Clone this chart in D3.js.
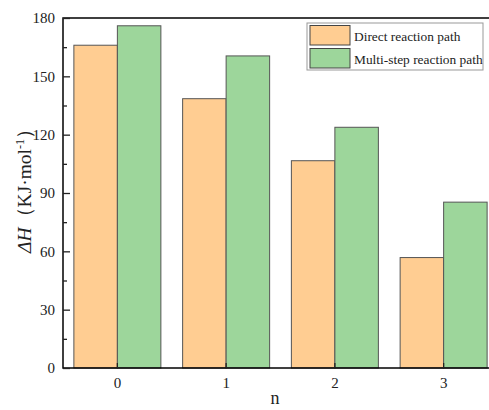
<!DOCTYPE html>
<html><head><meta charset="utf-8">
<script src="https://cdn.jsdelivr.net/npm/d3@7"></script>
<style>body{margin:0;background:#fff}svg{display:block}text{font-family:"Liberation Serif","Times New Roman",serif}</style>
</head><body>
<script>
const categories = ["0","1","2","3"];
const seriesNames = ["Direct reaction path","Multi-step reaction path"];
const directValues = [166, 138.5, 106.6, 56.8];
const multiValues = [176, 160.5, 123.8, 85.3];
const yTicks = [0,30,60,90,120,150,180];
const yMinorTicks = [15,45,75,105,135,165];
const colors = ["#FFCD92","#9DD69B"];

const W=489,H=410;
const svg=d3.select("body").append("svg").attr("width",W).attr("height",H);
const m={l:63,t:18,b:368,r:498};
const x=d3.scaleBand().domain(categories).range([m.l,m.r]).paddingInner(0.2).paddingOuter(0.1);
const xs=d3.scaleBand().domain(seriesNames).range([0,x.bandwidth()]);
const y=d3.scaleLinear().domain([0,180]).range([m.b,m.t]);
const series=[directValues,multiValues];

const g=svg.append("g");
series.forEach((vals,si)=>{
  g.selectAll(".b"+si).data(categories).join("rect")
    .attr("x",d=>x(d)+xs(seriesNames[si]))
    .attr("y",(d,i)=>y(vals[i]))
    .attr("width",xs.bandwidth())
    .attr("height",(d,i)=>y(0)-y(vals[i]))
    .attr("fill",colors[si]).attr("stroke","#555").attr("stroke-width",1);
});

// frame
svg.append("rect").attr("x",m.l).attr("y",m.t).attr("width",m.r-m.l).attr("height",m.b-m.t)
  .attr("fill","none").attr("stroke","#000").attr("stroke-width",1.5);

const ya=svg.append("g").attr("transform",`translate(${m.l},0)`)
  .call(d3.axisLeft(y).tickValues(yTicks).tickSize(-7).tickPadding(8));
ya.select(".domain").remove();
ya.selectAll("text").attr("font-size","15px").attr("fill","#222").style("font-family","Liberation Serif");
ya.selectAll("line").attr("stroke","#222").attr("stroke-width",1.3);
const ym=svg.append("g").attr("transform",`translate(${m.l},0)`)
  .call(d3.axisLeft(y).tickValues(yMinorTicks).tickSize(-4).tickFormat(""));
ym.select(".domain").remove();
ym.selectAll("line").attr("stroke","#222").attr("stroke-width",1.3);

const xa=svg.append("g").attr("transform",`translate(0,${m.b})`)
  .call(d3.axisBottom(x).tickSize(-5).tickPadding(9));
xa.select(".domain").remove();
xa.selectAll("text").attr("font-size","15px").attr("fill","#222").style("font-family","Liberation Serif");
xa.selectAll("line").attr("stroke","#222").attr("stroke-width",1.3);

svg.append("text").attr("x",275).attr("y",404).attr("text-anchor","middle")
  .attr("font-size","18px").attr("fill","#222").text("n");

const yl=svg.append("text").attr("transform","translate(31,186) rotate(-90)").attr("text-anchor","middle")
  .attr("font-size","19.5px").attr("fill","#222");
yl.append("tspan").attr("font-style","italic").text("ΔH");
yl.append("tspan").text("（KJ·mol");
yl.append("tspan").attr("font-size","12px").attr("dy","-7").text("-1");
yl.append("tspan").attr("dy","7").text("）");

// legend
const lg=svg.append("g");
lg.append("rect").attr("x",307).attr("y",23).attr("width",176).attr("height",47)
  .attr("fill","#fff").attr("stroke","#999").attr("stroke-width",1);
seriesNames.forEach((s,i)=>{
  lg.append("rect").attr("x",310).attr("y",25.5+i*23).attr("width",40).attr("height",19.5)
    .attr("fill",colors[i]).attr("stroke","#444").attr("stroke-width",1);
  lg.append("text").attr("x",354).attr("y",40.5+i*23).attr("font-size","13.4px").attr("fill","#222").text(s);
});
</script>
</body></html>
